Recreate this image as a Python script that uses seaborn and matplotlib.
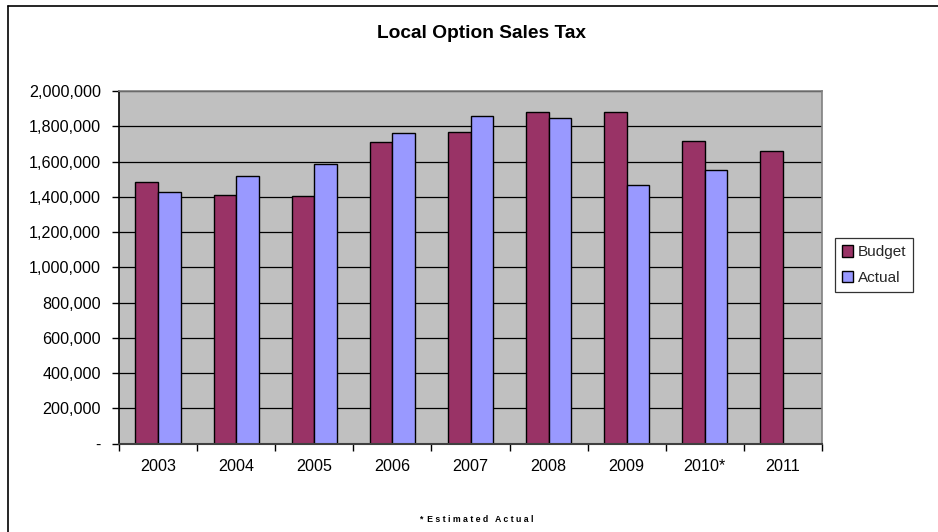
import matplotlib
matplotlib.use("Agg")
import matplotlib.pyplot as plt
import matplotlib.ticker as mticker
from matplotlib.lines import Line2D
import numpy as np
import pandas as pd
import seaborn as sns

years = ["2003", "2004", "2005", "2006", "2007", "2008", "2009", "2010*", "2011"]
budget = [1485000, 1412000, 1405000, 1709000, 1768000, 1881000, 1881000, 1715000, 1658000]
actual = [1427000, 1520000, 1586000, 1760000, 1860000, 1845000, 1469000, 1550000, np.nan]
series_names = ["Budget", "Actual"]
colors = ["#993366", "#9999FF"]

df = pd.DataFrame({
    "Year": years * 2,
    "Series": [series_names[0]] * len(years) + [series_names[1]] * len(years),
    "Value": budget + actual,
})

sns.set_theme(style="white")
plt.rcParams["font.family"] = ["Liberation Sans", "DejaVu Sans"]

fig = plt.figure(figsize=(9.38, 5.32), dpi=100)
ax = fig.add_axes([119 / 938, 1 - 443.7 / 532, (822 - 119) / 938, (443.7 - 91) / 532])

sns.barplot(data=df, x="Year", y="Value", hue="Series", order=years,
            hue_order=series_names, palette=colors, width=0.58,
            edgecolor="black", linewidth=1.0, saturation=1, errorbar=None,
            ax=ax, legend=False)

ax.set_facecolor("#C0C0C0")
ax.set_xlim(-0.5, len(years) - 0.5)
ax.set_ylim(0, 2000000)
ax.set_yticks(np.arange(0, 2000001, 200000))
ax.yaxis.set_major_formatter(mticker.FuncFormatter(lambda v, p: "-" if v == 0 else f"{int(v):,}"))
ax.grid(axis="y", color="black", linewidth=0.9)
ax.set_axisbelow(True)

# x ticks: marks at boundaries, labels at centers
ax.set_xticks(np.arange(-0.5, len(years), 1.0))
ax.set_xticklabels([])
ax.set_xticks(np.arange(len(years)), minor=True)
ax.set_xticklabels(years, minor=True)
ax.tick_params(axis="x", which="major", direction="out", length=5, width=1, color="black", bottom=True)
ax.tick_params(axis="x", which="minor", length=0, pad=11, labelsize=11.6, labelcolor="black")
ax.tick_params(axis="y", direction="out", length=5, width=1, color="black", left=True, labelsize=11.6, labelcolor="black", pad=8)

ax.set_xlabel("")
ax.set_ylabel("")
for s in ["top", "right"]:
    ax.spines[s].set_color("#808080")
    ax.spines[s].set_linewidth(1.2)
ax.spines["left"].set_color("black")
ax.spines["bottom"].set_color("#404040")
ax.spines["left"].set_linewidth(1.2)
ax.spines["bottom"].set_linewidth(1.5)

handles = [plt.Rectangle((0, 0), 1, 1, facecolor=c, edgecolor="black", linewidth=1) for c in colors]
leg = fig.legend(handles, series_names, loc="upper left",
                 bbox_to_anchor=(835 / 938, 1 - 238.5 / 532), fontsize=11,
                 frameon=True, fancybox=False, edgecolor="black",
                 handlelength=0.75, handleheight=0.75, handletextpad=0.3,
                 borderpad=0.45, labelspacing=0.75, borderaxespad=0)
leg.get_frame().set_linewidth(0.9)

fig.text(481 / 938, 1 - 34 / 532, "Local Option Sales Tax", ha="center", va="center",
         fontsize=13.8, fontweight="bold", color="black")
fig.text(476 / 938, 1 - 519 / 532, "*  E s t i m a t e d   A c t u a l", ha="center", va="center",
         fontsize=6.3, fontweight="bold", color="black")

# outer frame (top and left edges visible)
fig.add_artist(Line2D([8 / 938, 1.0], [1 - 6 / 532, 1 - 6 / 532], color="black", linewidth=1.2, transform=fig.transFigure))
fig.add_artist(Line2D([8 / 938, 8 / 938], [0, 1 - 6 / 532], color="black", linewidth=1.2, transform=fig.transFigure))

fig.savefig("out.png", dpi=100)
